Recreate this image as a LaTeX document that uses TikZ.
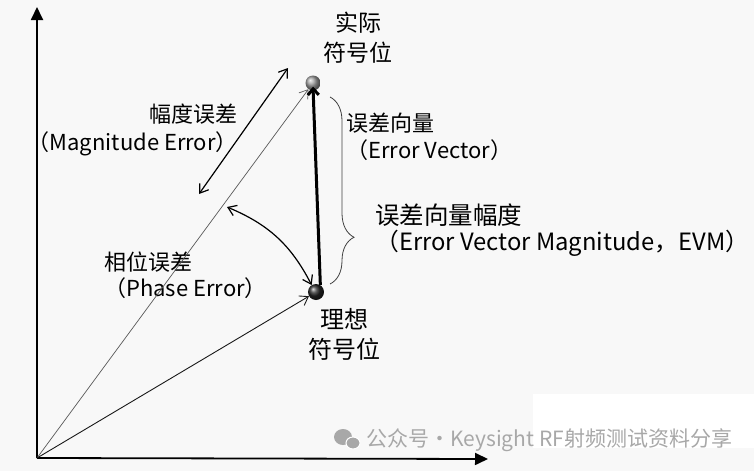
\documentclass[tikz,border=0pt]{standalone}
\usepackage{fontspec}
\setmainfont{Noto Sans CJK SC}
\usepackage{tikz}
\usetikzlibrary{arrows.meta,decorations.pathreplacing}

\definecolor{bgcol}{RGB}{248,248,248}
\definecolor{markgray}{RGB}{168,168,168}

\tikzset{
	axis/.style={line width=1.8pt,-{Triangle[length=13pt,width=12pt]}},
	vec/.style={line width=0.7pt,-{Straight Barb[length=8pt,width=11pt]}},
	dimarrow/.style={line width=1.2pt,{Straight Barb[length=8pt,width=11pt]}-{Straight Barb[length=8pt,width=11pt]}},
	errvec/.style={line width=3pt,-{Straight Barb[length=6pt,width=11pt]}},
	dot/.style={circle,inner sep=0pt,minimum size=15pt,shading=ball},
	lbl/.style={inner sep=0pt,font=\fontsize{22}{27}\selectfont},
}

\begin{document}
\begin{tikzpicture}[x=1pt,y=-1pt]
	
		\fill[bgcol] (0,0) rectangle (754,471);
		\useasboundingbox (0,0) rectangle (754,471);
		\fill[white] (533,394) rectangle (754,448);
		
		\coordinate (o) at (37,458);
		\coordinate (ytop) at (37,7);
		\coordinate (xend) at (488,459);
		\coordinate (m1) at (199,194);
		\coordinate (m2) at (288,68);
		\coordinate (p1) at (227,207);
		
		\node[dot,ball color=gray!75] (actual) at (313,83) {};
		\node[dot,ball color=black!85,minimum size=16pt] (ideal) at (316,292) {};
		
		\node[lbl,align=center,font=\fontsize{23}{30}\selectfont] (actuallbl) at (358,38) {实际\\符号位};
		\node[lbl,align=center,font=\fontsize{24}{30}\selectfont] (ideallbl) at (344,334) {理想\\符号位};
		\node[lbl,align=right,anchor=east,font=\fontsize{22}{28}\selectfont] (maglbl) at (238,130) {幅度误差\\（Magnitude Error）};
		\node[lbl,align=left,anchor=west] (evlbl) at (346,137) {误差向量\\（Error Vector）};
		\node[lbl,align=left,anchor=west,font=\fontsize{24.5}{26}\selectfont] (evmlbl) at (375,230) {误差向量幅度\\{\fontsize{23.8}{26}\selectfont（Error Vector Magnitude，EVM）}};
		\node[lbl,align=left,anchor=west,font=\fontsize{22}{26}\selectfont] (phaselbl) at (104,275) {相位误差\\（Phase Error）};
		
		\path[axis,draw] (o) -- (ytop);
		\path[axis,draw] (o) -- (xend);
		
		\path[vec,draw,black!65] (o) -- (actual);
		\path[vec,draw,black!90,line width=0.9pt] (o) -- (ideal);
		\path[errvec,draw] (ideal.58) -- ([yshift=4pt]actual.south);
		
		\path[dimarrow,draw] (m1) -- (m2);
		\path[dimarrow,draw] (p1) to[bend left=20] (ideal.122);
		
		\draw[black!75,line width=0.8pt,decorate,decoration={brace,amplitude=24pt,aspect=0.75}] (330,97) -- (330,284);
		
		% watermark
		\fill[markgray] (343,437) ellipse (9pt and 8pt);
		\fill[markgray,draw=white,line width=1pt] (353,443) ellipse (7pt and 6pt);
		\node[inner sep=0pt,anchor=west,text=markgray,font=\fontsize{21}{21}\selectfont] (mark) at (366,440) {公众号·Keysight RF射频测试资料分享};
	
\end{tikzpicture}
\end{document}
